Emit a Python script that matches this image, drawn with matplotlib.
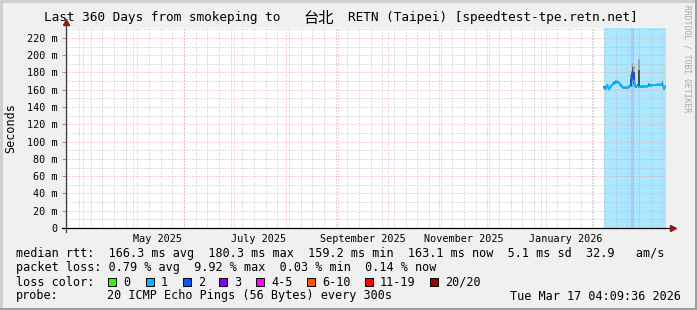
"""Smokeping 360-day latency graph for RETN Taipei, redrawn with matplotlib."""

import matplotlib
matplotlib.use("Agg")
import matplotlib.pyplot as plt
from matplotlib.colors import to_rgb
from matplotlib.lines import Line2D
import pandas as pd

W, H = 697, 310
MONO = "DejaVu Sans Mono"

t_end = pd.Timestamp("2026-03-17 04:09:36")
t_start = t_end - pd.Timedelta(days=360)

# daily consolidated values (milliseconds)
days = pd.date_range("2026-02-08", "2026-03-17", freq="D")
median_ms = [162.8, 161.0, 165.0, 160.5, 164.0, 166.0, 167.0, 168.0, 169.0, 168.5,
             165.0, 163.0, 162.0, 162.5, 162.0, 163.0, 165.0, 180.3, 170.0, 163.0,
             165.0, 163.0, 163.0, 163.5, 163.5, 164.0, 164.0, 164.5, 165.0, 165.0,
             165.5, 165.5, 166.0, 166.0, 165.5, 167.0, 161.5, 163.1]
smoke_hi_ms = [164.5, 165.0, 167.0, 163.5, 166.0, 168.0, 170.0, 171.0, 171.0, 170.0,
               167.0, 165.0, 164.0, 164.0, 164.0, 166.0, 178.0, 191.0, 188.0, 166.0,
               167.0, 196.0, 165.0, 166.0, 165.0, 165.0, 166.0, 168.0, 167.0, 167.0,
               167.0, 167.0, 168.0, 168.0, 168.0, 171.0, 165.0, 165.0]
smoke_lo_ms = [161.0, 159.5, 162.5, 159.2, 162.0, 164.5, 165.5, 166.5, 167.5, 166.5,
               163.5, 161.5, 160.5, 161.0, 160.5, 161.5, 163.0, 163.0, 163.0, 161.5,
               163.5, 161.5, 161.5, 162.0, 162.0, 162.5, 162.5, 163.0, 163.5, 163.5,
               164.0, 164.0, 164.5, 164.5, 164.0, 165.0, 160.0, 161.5]
loss_pings = [1] * 16 + [2, 2] + [1] * 20

loss_labels = ["0", "1", "2", "3", "4-5", "6-10", "11-19", "20/20"]
loss_colors = ["#26ff00", "#00b8ff", "#0059ff", "#7e00ff",
               "#ff00ff", "#ff5500", "#ff0000", "#a10000"]
loss_bounds = [0, 1, 2, 3, 5, 10, 19, 20]

month_labels = ["May 2025", "July 2025", "September 2025", "November 2025", "January 2026"]
month_label_dates = ["2025-05-01", "2025-07-01", "2025-09-01", "2025-11-01", "2026-01-01"]
y_ticks = list(range(0, 221, 20))

stats_lines = [
    "median rtt:  166.3 ms avg  180.3 ms max  159.2 ms min  163.1 ms now  5.1 ms sd  32.9   am/s",
    "packet loss: 0.79 % avg  9.92 % max  0.03 % min  0.14 % now",
]
probe_text = "20 ICMP Echo Pings (56 Bytes) every 300s"
stamp_text = "Tue Mar 17 04:09:36 2026"

Y_TOP = 231.5
RED_GRID = "#f4a4a4"
GRAY_GRID = "#bdbdbd"
DOTS = (0, (1, 2))


def loss_index(n):
    for i, b in enumerate(loss_bounds):
        if n <= b:
            return i
    return len(loss_bounds) - 1


def fx(x):
    return x / W


def fy(y):
    return 1 - y / H


fig = plt.figure(figsize=(W / 100, H / 100), dpi=100, facecolor="#f0f0f0")
ax = fig.add_axes([fx(66), fy(228), 600 / W, 200 / H], facecolor="white")
ax.set_xlim(t_start, t_end)
ax.set_ylim(0, Y_TOP)

# loss background behind each day
day_colors = [loss_colors[loss_index(n)] for n in loss_pings]
bg = [tuple(1 - (1 - c) * 0.33 for c in to_rgb(col)) for col in day_colors]
ax.bar(days, [Y_TOP] * len(days), width=1.0, align="edge", color=bg,
       linewidth=0, antialiased=False, zorder=1)

# grid
for t in pd.date_range(t_start, t_end, freq="W-SUN").normalize():
    ax.axvline(t, color=GRAY_GRID, lw=0.72, ls=DOTS, zorder=2)
for v in range(10, 231, 20):
    ax.axhline(v, color=GRAY_GRID, lw=0.72, ls=DOTS, zorder=2)
for t in pd.date_range(t_start, t_end, freq="MS"):
    ax.axvline(t, color=RED_GRID, lw=0.72, ls=DOTS, zorder=2.1)
for v in y_ticks[1:]:
    ax.axhline(v, color=RED_GRID, lw=0.72, ls=DOTS, zorder=2.1)

# smoke, one slice per day
smoke_h = [h - l for h, l in zip(smoke_hi_ms, smoke_lo_ms)]
inner_lo = [m - (m - l) * 0.4 for m, l in zip(median_ms, smoke_lo_ms)]
inner_h = [m + (h - m) * 0.6 - lo for m, h, lo in zip(median_ms, smoke_hi_ms, inner_lo)]
ax.bar(days, smoke_h, bottom=smoke_lo_ms, width=1.0, align="center",
       color="#a4a4a4", linewidth=0, antialiased=False, zorder=3)
ax.bar(days, inner_h, bottom=inner_lo, width=1.0, align="center",
       color="#505050", linewidth=0, antialiased=False, zorder=3.1)

# median line, each segment coloured by loss
for i in range(len(days) - 1):
    ax.plot(days[i:i + 2], median_ms[i:i + 2], color=day_colors[i], lw=1.4,
            solid_capstyle="round", zorder=4)

# axes
for s in ax.spines.values():
    s.set_visible(False)
ax.add_line(Line2D([0, 0], [-0.02, 1.02], transform=ax.transAxes, color="#404040",
                   lw=0.9, clip_on=False, zorder=5))
ax.add_line(Line2D([-0.007, 1.005], [0, 0], transform=ax.transAxes, color="black",
                   lw=0.9, clip_on=False, zorder=5))
ax.plot([0], [1.03], marker="^", ms=4.5, color="#8b1a1a", transform=ax.transAxes,
        clip_on=False, zorder=6)
ax.plot([1.012], [0], marker=">", ms=4.5, color="#8b1a1a", transform=ax.transAxes,
        clip_on=False, zorder=6)

ax.set_yticks(y_ticks, ["0" if v == 0 else f"{v} m" for v in y_ticks],
              family=MONO, fontsize=7.3)
ax.tick_params(axis="y", length=3, width=0.7, color="#c08080", pad=3)
label_pos = [pd.Timestamp(d) + pd.Timedelta(days=15) for d in month_label_dates]
ax.set_xticks(label_pos, month_labels, family=MONO, fontsize=7.3)
ax.tick_params(axis="x", length=0, pad=4)

# title and axis label
fig.text(fx(44), fy(18), "Last 360 Days from smokeping to", family=MONO,
         fontsize=9.2, va="center", ha="left")
fig.text(fx(319), fy(18), "台北", family=["Noto Sans CJK SC", "DejaVu Sans"],
         fontsize=11, va="center", ha="center")
fig.text(fx(348), fy(18), "RETN (Taipei) [speedtest-tpe.retn.net]", family=MONO,
         fontsize=9.2, va="center", ha="left")
fig.text(fx(11), fy(128), "Seconds", family=MONO, fontsize=8.5, rotation=90,
         va="center", ha="center")
fig.text(fx(687), fy(5), "RRDTOOL / TOBI OETIKER", family=MONO, fontsize=5.8,
         rotation=270, va="top", ha="center", color="#a8a8a8")

# legend block
for i, line in enumerate(stats_lines):
    fig.text(fx(16), fy(254 + 14 * i), line, family=MONO, fontsize=8.5, va="center")
fig.text(fx(16), fy(282), "loss color:", family=MONO, fontsize=8.5, va="center")
box_x = [108, 145.7, 182.7, 219.3, 256, 307, 365, 430]
for bx, col, lab in zip(box_x, loss_colors, loss_labels):
    fig.patches.append(plt.Rectangle((fx(bx), fy(286)), 8 / W, 8 / H, facecolor=col,
                                     edgecolor="black", lw=0.7,
                                     transform=fig.transFigure, figure=fig))
    fig.text(fx(bx + 15), fy(282), lab, family=MONO, fontsize=8.5, va="center")
fig.text(fx(16), fy(296), "probe:", family=MONO, fontsize=8.5, va="center")
fig.text(fx(107), fy(296), probe_text, family=MONO, fontsize=8.5, va="center")
fig.text(fx(681), fy(296), stamp_text, family=MONO, fontsize=8.5, va="center",
         ha="right")

# 3D frame
for (x0, y0, x1, y1, c) in [(0, 1, W, 1, "#cfcfcf"), (1, 0, 1, H, "#cfcfcf"),
                            (0, H - 1.5, W, H - 1.5, "#9e9e9e"),
                            (W - 1.5, 0, W - 1.5, H, "#9e9e9e")]:
    fig.add_artist(Line2D([fx(x0), fx(x1)], [fy(y0), fy(y1)], color=c, lw=2.2))

fig.savefig("out.png", dpi=100, facecolor=fig.get_facecolor())
plt.close(fig)
